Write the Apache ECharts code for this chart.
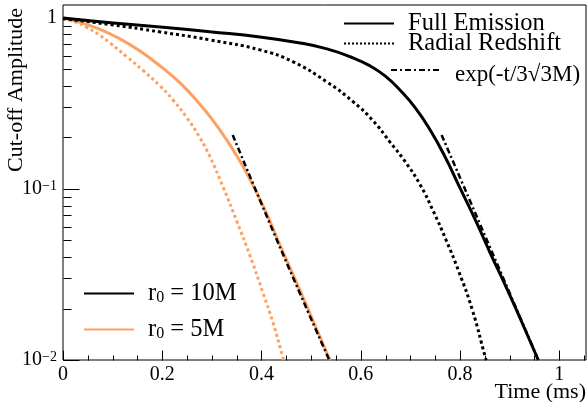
<!DOCTYPE html>
<html>
<head>
<meta charset="utf-8">
<script src="https://cdn.jsdelivr.net/npm/echarts@6/dist/echarts.min.js"></script>
<style>
html,body{margin:0;padding:0;background:#fff;}
#chart{width:587px;height:402px;}
</style>
</head>
<body>
<div id="chart"></div>
<script>
// ---- data ----
// r0 = 10M, full emission (solid black)
const tFull10   = [0, 0.101, 0.196, 0.296, 0.397, 0.478, 0.532, 0.580, 0.619, 0.649, 0.679, 0.710, 0.740, 0.770, 0.800, 0.831, 0.861, 0.891, 0.921, 0.956, 0.958];
const ampFull10 = [1.0, 0.935, 0.886, 0.830, 0.774, 0.714, 0.659, 0.591, 0.524, 0.458, 0.379, 0.298, 0.221, 0.154, 0.1014, 0.0659, 0.0422, 0.0275, 0.0176, 0.01027, 0.0100];
// r0 = 10M, radial redshift (dotted black)
const tRad10   = [0, 0.101, 0.196, 0.296, 0.397, 0.464, 0.532, 0.585, 0.625, 0.659, 0.690, 0.720, 0.746, 0.772, 0.798, 0.825, 0.851, 0.853];
const ampRad10 = [0.99, 0.910, 0.828, 0.744, 0.650, 0.553, 0.422, 0.323, 0.250, 0.188, 0.144, 0.1055, 0.0744, 0.0503, 0.0327, 0.0196, 0.0104, 0.0100];
// r0 = 5M, full emission (solid orange)
const tFull5   = [0, 0.0343, 0.0746, 0.1149, 0.1552, 0.1956, 0.2359, 0.2762, 0.3065, 0.3266, 0.3468, 0.371, 0.4032, 0.4435, 0.4879, 0.5343, 0.5383];
const ampFull5 = [1.0, 0.941, 0.857, 0.754, 0.641, 0.524, 0.417, 0.312, 0.242, 0.200, 0.1620, 0.1225, 0.0796, 0.0428, 0.0218, 0.01055, 0.0100];
// r0 = 5M, radial redshift (dotted orange)
const tRad5   = [0, 0.0242, 0.0484, 0.0746, 0.0948, 0.129, 0.1613, 0.1956, 0.2218, 0.25, 0.2762, 0.2964, 0.3226, 0.3508, 0.377, 0.4032, 0.4234, 0.4435, 0.4448];
const ampRad5 = [1.0, 0.948, 0.880, 0.790, 0.714, 0.591, 0.493, 0.400, 0.331, 0.260, 0.1987, 0.1538, 0.1027, 0.0641, 0.0406, 0.0246, 0.01646, 0.01027, 0.0100];
// exp(-t/3sqrt3 M) reference lines (dash-dot black)
const tExp5   = [0.342, 0.440, 0.536];
const ampExp5 = [0.207, 0.0437, 0.0101];
const tExp10   = [0.763, 0.860, 0.955];
const ampExp10 = [0.207, 0.046, 0.0105];
// axes
const xMajorTicks = [0, 0.2, 0.4, 0.6, 0.8, 1.0];
const xMinorTicks = [0.05, 0.1, 0.15, 0.25, 0.3, 0.35, 0.45, 0.5, 0.55, 0.65, 0.7, 0.75, 0.85, 0.9, 0.95, 1.05];
const yMajorTicks = [0.01, 0.1, 1];
const yMinorTicks = [0.02, 0.03, 0.04, 0.05, 0.06, 0.07, 0.08, 0.09, 0.2, 0.3, 0.4, 0.5, 0.6, 0.7, 0.8, 0.9];
const legendStyles = ['Full Emission', 'Radial Redshift', 'exp(-t/3\u221A3M)'];
const legendRadii = ['r0 = 10M', 'r0 = 5M'];
const xTitle = 'Time (ms)';
const yTitle = 'Cut-off Amplitude';

const ORANGE = '#ffa060';
const FONT = 'Liberation Serif';
const zip = (t, a) => t.map((v, i) => [v, a[i]]);
const X_MIN = 0, X_MAX = 1.054, Y_MIN = 0.01, Y_MAX = 1.19;
const DASHDOT = [6, 3, 2, 3];

function tickSeries(values, onX, len) {
  return {
    type: 'custom', coordinateSystem: 'cartesian2d', silent: true, clip: false, z: 5,
    data: values.map(v => onX ? [v, Y_MIN] : [X_MIN, v]),
    encode: { x: 0, y: 1 },
    renderItem: function (params, api) {
      const p = api.coord([api.value(0), api.value(1)]);
      const x = Math.round(p[0]) + 0.5, y = Math.round(p[1]) + 0.5;
      return {
        type: 'line',
        shape: onX ? { x1: x, y1: y, x2: x, y2: y - len } : { x1: x, y1: y, x2: x + len, y2: y },
        style: { stroke: '#000', lineWidth: 1 }
      };
    }
  };
}

function lineSeries(name, data, color, type, width, z) {
  return {
    name: name, type: 'line', data: data, symbol: 'none', smooth: 0.5, z: z || 2,
    lineStyle: { color: color, width: width, type: type, cap: 'butt' },
    itemStyle: { color: color }, animation: false, silent: true
  };
}

function legendBox(name, left, top, iw, padLeft, padTop, fs) {
  return {
    show: true, orient: 'vertical', padding: 0, left: left, top: top,
    itemWidth: iw, itemHeight: 14, itemGap: 0, selectedMode: false,
    data: [name], itemStyle: { opacity: 0 },
    formatter: function (n) {
      if (n.indexOf('r0') === 0) return '{a|r}{s|0}{a|' + n.slice(2) + '}';
      return n;
    },
    textStyle: {
      fontFamily: FONT, fontSize: fs, color: '#000', lineHeight: 24,
      padding: [padTop || 0, 0, 0, padLeft],
      rich: {
        a: { fontFamily: FONT, fontSize: fs, color: '#000', lineHeight: 24 },
        s: { fontFamily: FONT, fontSize: 16, color: '#000', lineHeight: 9, verticalAlign: 'bottom' }
      }
    }
  };
}

const chart = echarts.init(document.getElementById('chart'), null, { renderer: 'canvas' });
chart.setOption({
  animation: false,
  backgroundColor: '#fff',
  grid: { left: 63, right: 1, top: 5, bottom: 42, show: true, borderColor: '#000', borderWidth: 1, backgroundColor: 'transparent' },
  xAxis: {
    type: 'value', min: X_MIN, max: X_MAX, interval: 0.2,
    axisLine: { show: false }, axisTick: { show: false }, splitLine: { show: false },
    axisLabel: {
      margin: 5, fontFamily: FONT, fontSize: 20, color: '#000', showMaxLabel: false,
      formatter: function (v) {
        const k = v / 0.2;
        return Math.abs(k - Math.round(k)) < 1e-6 ? String(+v.toFixed(1)) : '';
      }
    }
  },
  yAxis: {
    type: 'log', logBase: 10, min: Y_MIN, max: Y_MAX,
    axisLine: { show: false }, axisTick: { show: false }, splitLine: { show: false }, minorTick: { show: false },
    axisLabel: {
      margin: 6, fontFamily: FONT, fontSize: 20, color: '#000', showMaxLabel: false,
      formatter: function (v) {
        const l = Math.log10(v);
        if (Math.abs(l) < 1e-6) return '1';
        if (Math.abs(l + 1) < 1e-6) return '10{sup|\u22121}';
        if (Math.abs(l + 2) < 1e-6) return '10{sup|\u22122}';
        return '';
      },
      rich: { sup: { fontFamily: FONT, fontSize: 14, color: '#000', verticalAlign: 'top', padding: [0, 0, 6, 0] } }
    }
  },
  legend: [
    legendBox(legendStyles[0], 343, 11, 50, 9, 0, 24.5),
    legendBox(legendStyles[1], 343, 31, 50, 9, 0, 24.5),
    legendBox(legendStyles[2], 390, 53, 48, 11, 10, 23),
    legendBox(legendRadii[0], 83, 281, 50, 9, 0, 24.5),
    legendBox(legendRadii[1], 83, 317, 50, 9, 0, 24.5)
  ],
  graphic: [
    { type: 'text', x: 586, y: 392, style: { text: xTitle, fontFamily: FONT, fontSize: 22, fill: '#000', align: 'right', verticalAlign: 'middle' } },
    { type: 'text', x: 16, y: 90, rotation: Math.PI / 2, style: { text: yTitle, fontFamily: FONT, fontSize: 22, fill: '#000', align: 'center', verticalAlign: 'middle' } }
  ],
  series: [
    lineSeries('r5full', zip(tFull5, ampFull5), ORANGE, 'solid', 3, 2),
    lineSeries('r5rad', zip(tRad5, ampRad5), ORANGE, 'dotted', 3, 2),
    lineSeries('r10full', zip(tFull10, ampFull10), '#000', 'solid', 3, 3),
    lineSeries('r10rad', zip(tRad10, ampRad10), '#000', 'dotted', 3, 3),
    lineSeries('exp5', zip(tExp5, ampExp5), '#000', DASHDOT, 2.5, 4),
    lineSeries('exp10', zip(tExp10, ampExp10), '#000', DASHDOT, 2.5, 4),
    lineSeries(legendStyles[0], [], '#000', 'solid', 3),
    lineSeries(legendStyles[1], [], '#000', 'dotted', 3),
    lineSeries(legendStyles[2], [], '#000', DASHDOT, 2.5),
    lineSeries(legendRadii[0], [], '#000', 'solid', 3),
    lineSeries(legendRadii[1], [], ORANGE, 'solid', 3),
    tickSeries(xMajorTicks, true, 10),
    tickSeries(xMinorTicks, true, 5),
    tickSeries(yMajorTicks, false, 16),
    tickSeries(yMinorTicks, false, 8)
  ]
});
</script>
</body>
</html>
